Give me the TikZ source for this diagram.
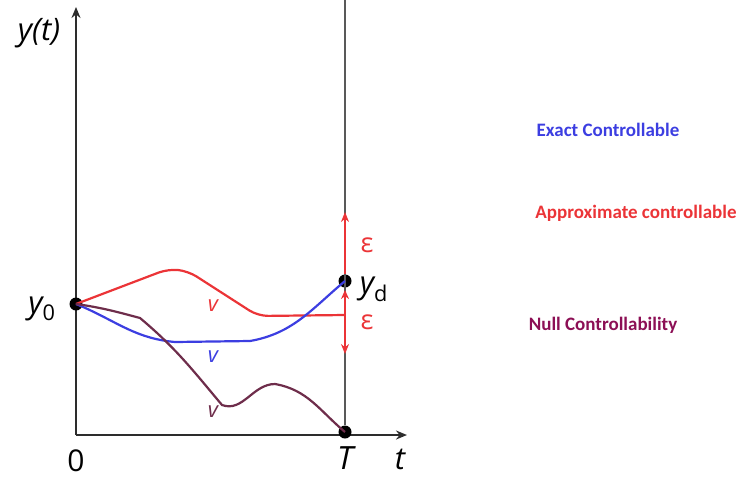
\documentclass[tikz,border=0pt]{standalone}
\usepackage{fontspec}
\setmainfont{Carlito}
\newfontfamily\axfont{Open Sans}
\usetikzlibrary{arrows.meta,positioning}
\definecolor{exactblue}{RGB}{60,62,225}
\definecolor{approxred}{RGB}{235,52,55}
\definecolor{nullplum}{RGB}{110,45,75}
\definecolor{nulltext}{RGB}{140,15,85}
\definecolor{axisgray}{RGB}{45,45,45}

\begin{document}
\begin{tikzpicture}[
  x=1pt, y=-1pt,
  dot/.style={circle, fill=black, minimum size=13pt, inner sep=0pt},
  axis/.style={draw=axisgray, line width=2pt, -{Stealth[length=11pt,width=9pt]}},
  curve/.style={line width=2.2pt},
  ax/.style={font=\axfont\itshape\fontsize{31}{31}\selectfont, inner sep=1pt},
  vlab/.style={font=\axfont\itshape\fontsize{22}{22}\selectfont, inner sep=0pt},
  eps/.style={font=\axfont\fontsize{27}{27}\selectfont, text=approxred, inner sep=0pt},
  kind/.style={font=\bfseries\fontsize{19}{19}\selectfont, inner sep=0pt}
]
\useasboundingbox (0,0) rectangle (741,480);

% axes
\coordinate (o) at (76,435);
\coordinate (ytop) at (76,7);
\coordinate (xend) at (407,435);
\coordinate (ttop) at (345,0);
\draw[axis] (o) -- (ytop);
\draw[axis] (o) -- (xend);

% points
\node[dot] (y0) at (76,304) {};
\node[dot] (yd) at (345,281) {};
\node[dot] (yT) at (345,432) {};
\draw[draw=black!65, line width=1.3pt] (yT) -- (ttop);

% epsilon band
\coordinate (epstop) at (345,212);
\coordinate (epsmid) at (345,290);
\coordinate (epsbot) at (345,354);
\draw[approxred, line width=1.5pt, -{Stealth[length=10pt,width=8pt]}] (yd) -- (epstop);
\draw[approxred, line width=1.5pt, {Stealth[length=9pt,width=8pt]}-{Stealth[length=10pt,width=8pt]}] (epsmid) -- (epsbot);

% approximate (red)
\coordinate (r1) at (168,269);
\coordinate (r2) at (188,271);
\coordinate (r3) at (258,316);
\coordinate (r4) at (345,315);
\draw[curve, approxred, rounded corners=10pt] (y0.center) -- (r1) -- (r2) -- (r3) -- (r4);

% exact (blue)
\coordinate (b1) at (175,342);
\coordinate (b2) at (250,341);
\draw[curve, exactblue] (y0.center) to[out=-22,in=175] (b1) -- (b2) to[out=10,in=220] (yd.center);

% null (plum)
\coordinate (n1) at (140,318);
\coordinate (n2) at (222,405);
\coordinate (n3) at (275,384);
\draw[curve, nullplum] (y0.center) to[out=-8,in=165] (n1) to[out=-40,in=130] (n2) to[out=-20,in=180] (n3) to[out=-10,in=140] (yT.center);

% labels
\node[ax] (ylab) at (39,33) {y(t)};
\node[ax] (y0lab) at (42,309) {y\textsubscript{\upshape 0}};
\node[ax] (ydlab) at (374,289) {y\textsubscript{\upshape d}};
\node[ax, font=\axfont\fontsize{30}{30}\selectfont] (zero) at (76,461) {0};
\node[ax, font=\axfont\itshape\fontsize{32}{32}\selectfont] (Tlab) at (345,458) {T};
\node[ax] (tlab) at (400,459) {t};
\node[eps] (eps1) at (367,245) {ε};
\node[eps] (eps2) at (367,322) {ε};
\node[vlab, text=approxred] (vr) at (213,306) {v};
\node[vlab, text=exactblue] (vb) at (213,357) {v};
\node[vlab, text=nullplum] (vn) at (213,412) {v};

\node[kind, text=exactblue] (exact) at (608,130) {Exact Controllable};
\node[kind, text=approxred] (approx) at (636,213) {Approximate controllable};
\node[kind, text=nulltext] (null) at (603,325) {Null Controllability};
\end{tikzpicture}
\end{document}
